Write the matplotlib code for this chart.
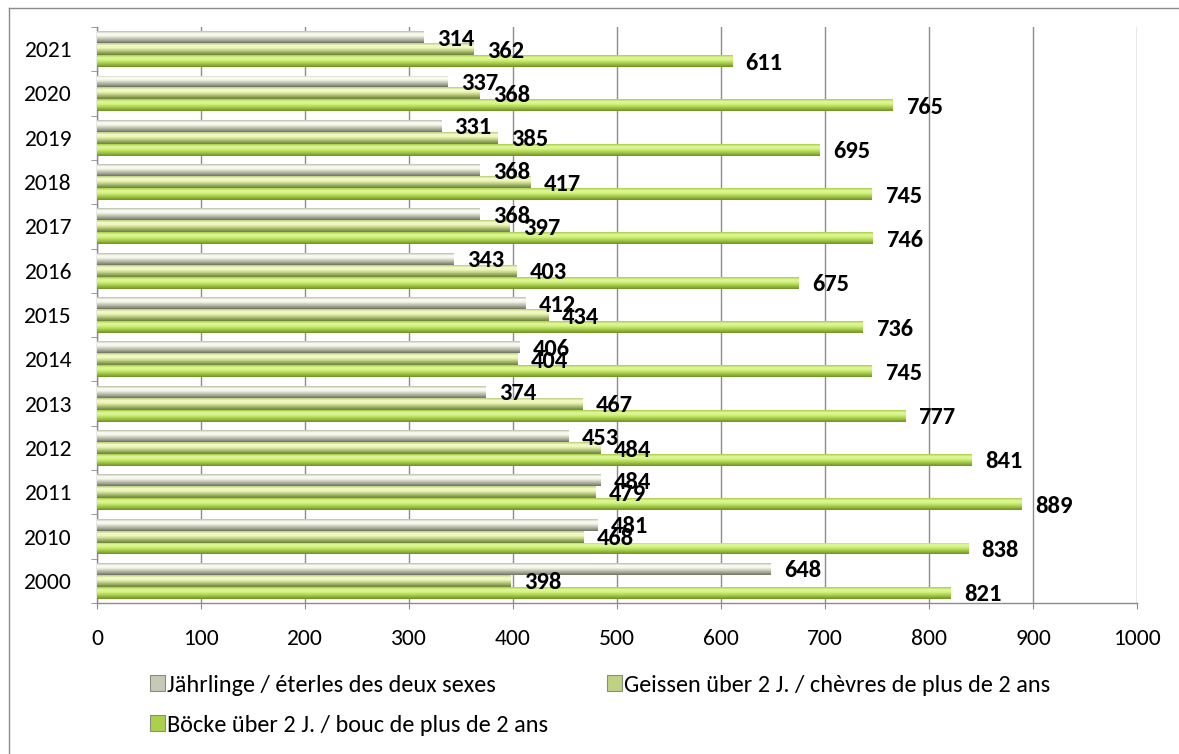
import numpy as np
import matplotlib
matplotlib.use('Agg')
import matplotlib.pyplot as plt
from matplotlib.colors import LinearSegmentedColormap
from matplotlib.patches import Patch
from matplotlib.lines import Line2D

years = ['2000', '2010', '2011', '2012', '2013', '2014', '2015', '2016',
         '2017', '2018', '2019', '2020', '2021']
jaehrlinge = [648, 481, 484, 453, 374, 406, 412, 343, 368, 368, 331, 337, 314]
geissen = [398, 468, 479, 484, 467, 404, 434, 403, 397, 417, 385, 368, 362]
boecke = [821, 838, 889, 841, 777, 745, 736, 675, 746, 745, 695, 765, 611]
series_labels = ['Jährlinge / éterles des deux sexes',
                 'Geissen über 2 J. / chèvres de plus de 2 ans',
                 'Böcke über 2 J. / bouc de plus de 2 ans']
xticks = list(range(0, 1001, 100))

FONT = ['Carlito', 'Lato', 'DejaVu Sans']
plt.rcParams['font.family'] = FONT

W, H = 1179, 754
fig = plt.figure(figsize=(W / 100, H / 100), dpi=100)
renderer = fig.canvas.get_renderer()


def fit_size(sample, target_px, weight='normal'):
    t = fig.text(0, 0, sample, fontsize=10, fontweight=weight, family=FONT)
    w = t.get_window_extent(renderer).width
    t.remove()
    return 10.0 * target_px / w


tick_fs = fit_size('2000', 48)
lab_fs = fit_size('821', 37, 'bold')
leg_fs = 0.5 * (fit_size('Jährlinge / éterles des de', 253) +
                fit_size('Geissen über 2 J. / chèvres d', 273))

ax = fig.add_axes([97 / W, 1 - 603 / H, (1137 - 97) / W, (603 - 27) / H])

# gradient colormaps (bottom -> top of bar)
grads = [
    ['#6f7462', '#9ea290', '#c9ccbb', '#f3f6e8', '#fbfdf4', '#b9bcaa'],
    ['#6d8338', '#93a860', '#c3d48c', '#eef6b8', '#f6fbcc', '#b7cc78'],
    ['#6f8f24', '#93b83c', '#b3da58', '#d6f386', '#e0f898', '#a6cc48'],
]
mids = ['#c6c9b6', '#bfd183', '#a9d14c']
cmaps = [LinearSegmentedColormap.from_list('g%d' % i, g) for i, g in enumerate(grads)]

h = 0.27
y = np.arange(len(years))
offsets = [h, 0.0, -h]
data = [jaehrlinge, geissen, boecke]

grad_img = np.linspace(0, 1, 64).reshape(-1, 1)
for s, (vals, off) in enumerate(zip(data, offsets)):
    bars = ax.barh(y + off, vals, height=h, color=mids[s], edgecolor='none', zorder=3)
    for b, v in zip(bars, vals):
        x0, y0 = b.get_x(), b.get_y()
        bw, bh = b.get_width(), b.get_height()
        im = ax.imshow(grad_img, cmap=cmaps[s], origin='lower', aspect='auto',
                       extent=[x0, x0 + bw, y0, y0 + bh], zorder=4,
                       interpolation='bilinear')
        im.set_clip_path(b)
        ax.annotate(str(v), xy=(v, y0 + bh / 2), xytext=(9.5, -1.5),
                    textcoords='offset points', ha='left', va='center',
                    fontsize=lab_fs, fontweight='bold', color='black',
                    family=FONT, zorder=6)

ax.set_xlim(0, 1000)
ax.set_ylim(-0.5, len(years) - 0.5)
ax.set_xticks(xticks)
ax.set_xticklabels([str(t) for t in xticks])
ax.set_yticks(y)
ax.set_yticklabels(years)
ax.set_yticks(np.arange(-0.5, len(years), 1.0), minor=True)
ax.tick_params(axis='y', which='major', length=0, pad=18, labelsize=tick_fs)
ax.tick_params(axis='y', which='minor', length=4, color='#8c8c8c', direction='out')
ax.tick_params(axis='x', which='major', length=4, color='#8c8c8c', direction='out',
               pad=15, labelsize=tick_fs)
ax.xaxis.grid(True, color='#8c8c8c', linewidth=1.0, zorder=0)
ax.set_axisbelow(True)
ax.spines['top'].set_visible(False)
ax.spines['right'].set_visible(False)
for sp in ['left', 'bottom']:
    ax.spines[sp].set_color('#8c8c8c')
    ax.spines[sp].set_linewidth(1.0)

# legend: one entry per legend box to place rows/columns exactly
leg_px = leg_fs * 100 / 72.0
handles = [Patch(facecolor=mids[i], edgecolor='#8a8d7c', linewidth=0.8) for i in range(3)]
leg_kw = dict(frameon=False, fontsize=leg_fs, handlelength=15 / leg_px,
              handleheight=15 / leg_px, handletextpad=2 / leg_px,
              borderpad=0, borderaxespad=0, loc='center left')
leg_pos = [(150, 685), (607, 685), (150, 725)]
for i in range(3):
    px, py = leg_pos[i]
    fig.legend([handles[i]], [series_labels[i]],
               bbox_to_anchor=(px / W, 1 - py / H), **leg_kw)

# outer chart border (only left and top visible in frame)
fig.add_artist(Line2D([9 / W, 9 / W], [0, 1 - 8 / H], transform=fig.transFigure,
                      color='#8c8c8c', linewidth=1.0))
fig.add_artist(Line2D([9 / W, 1], [1 - 8 / H, 1 - 8 / H], transform=fig.transFigure,
                      color='#8c8c8c', linewidth=1.0))

fig.savefig('out.png', dpi=100)
